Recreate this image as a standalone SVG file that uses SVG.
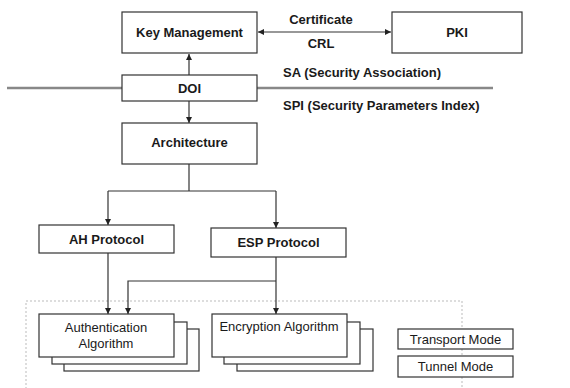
<svg xmlns="http://www.w3.org/2000/svg" width="570" height="388" viewBox="0 0 570 388">
<defs>
<marker id="ah" viewBox="0 0 10 10" refX="10" refY="5" markerWidth="6" markerHeight="6" orient="auto-start-reverse" markerUnits="userSpaceOnUse"><path d="M0,0 L10,5 L0,10 z" fill="#222"/></marker>
<style>
.box{fill:#fff;stroke:#333;stroke-width:1.2}
.b{font-family:"Liberation Sans",Arial,sans-serif;font-size:13px;font-weight:bold;fill:#1a1a1a;text-anchor:middle}
.n{font-family:"Liberation Sans",Arial,sans-serif;font-size:13px;fill:#1a1a1a;text-anchor:middle}
.l{font-family:"Liberation Sans",Arial,sans-serif;font-size:13px;font-weight:bold;fill:#1a1a1a}
.c{fill:none;stroke:#333;stroke-width:1.2}
</style>
</defs>
<rect width="570" height="388" fill="#fff"/>
<rect x="26" y="301" width="436" height="100" fill="none" stroke="#bbb" stroke-width="1" stroke-dasharray="2 2"/>
<g id="divider">
<line x1="7" y1="88" x2="122" y2="88" stroke="#888" stroke-width="2.5"/>
<line x1="257" y1="88" x2="493" y2="88" stroke="#888" stroke-width="2.5"/>
</g>
<g id="connectors">
<line class="c" x1="258" y1="32" x2="391" y2="32" marker-start="url(#ah)" marker-end="url(#ah)"/>
<line class="c" x1="189" y1="75" x2="189" y2="54" marker-end="url(#ah)"/>
<line class="c" x1="189" y1="101" x2="189" y2="123" marker-end="url(#ah)"/>
<polyline class="c" points="189,164 189,191"/>
<polyline class="c" points="108,191 276,191"/>
<line class="c" x1="108" y1="191" x2="108" y2="225" marker-end="url(#ah)"/>
<line class="c" x1="276" y1="191" x2="276" y2="228" marker-end="url(#ah)"/>
<line class="c" x1="108" y1="253" x2="108" y2="314" marker-end="url(#ah)"/>
<line class="c" x1="276" y1="257" x2="276" y2="314" marker-end="url(#ah)"/>
<polyline class="c" points="276,281 128,281 128,314" marker-end="url(#ah)"/>
</g>
<g id="keymgmt"><rect class="box" x="122" y="12" width="135" height="41"/><text class="b" x="189.5" y="37">Key Management</text></g>
<g id="pki"><rect class="box" x="392" y="12" width="130" height="41"/><text class="b" x="457" y="37">PKI</text></g>
<g id="labels">
<text class="b" x="321" y="24">Certificate</text>
<text class="b" x="321" y="48">CRL</text>
<text class="l" x="283" y="77">SA (Security Association)</text>
<text class="l" x="283" y="110">SPI (Security Parameters Index)</text>
</g>
<g id="doi"><rect class="box" x="122" y="75" width="135" height="26"/><text class="b" x="189.5" y="93">DOI</text></g>
<g id="architecture"><rect class="box" x="122" y="123" width="135" height="41"/><text class="b" x="189.5" y="147">Architecture</text></g>
<g id="ah-protocol"><rect class="box" x="39" y="225" width="135" height="28"/><text class="b" x="106.5" y="244">AH Protocol</text></g>
<g id="esp-protocol"><rect class="box" x="211" y="228" width="135" height="29"/><text class="b" x="278.5" y="247">ESP Protocol</text></g>
<g id="auth-algorithm">
<rect class="box" x="64" y="329" width="135" height="42"/>
<rect class="box" x="52" y="322" width="135" height="42"/>
<rect class="box" x="39" y="314" width="135" height="43"/>
<text class="n" x="106" y="332">Authentication</text>
<text class="n" x="106" y="348">Algorithm</text>
</g>
<g id="enc-algorithm">
<rect class="box" x="237" y="329" width="136" height="42"/>
<rect class="box" x="224" y="322" width="136" height="42"/>
<rect class="box" x="212" y="314" width="135" height="43"/>
<text class="n" x="279" y="331">Encryption Algorithm</text>
</g>
<g id="transport"><rect class="box" x="398" y="329" width="115" height="20"/><text class="n" x="455.5" y="344">Transport Mode</text></g>
<g id="tunnel"><rect class="box" x="398" y="356" width="115" height="21"/><text class="n" x="455.5" y="371">Tunnel Mode</text></g>
</svg>
